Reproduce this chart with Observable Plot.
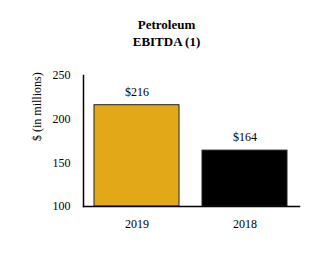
<!DOCTYPE html>
<html>
<head>
<meta charset="utf-8">
<script src="https://cdn.jsdelivr.net/npm/d3@7"></script>
<script src="https://cdn.jsdelivr.net/npm/@observablehq/plot@0.6"></script>
<style>
  html, body { margin: 0; padding: 0; background: #fff; }
  #title { width: 333px; padding-top: 16px; height: 34px; font-family: "Liberation Serif"; font-weight: bold; font-size: 13px; line-height: 17px; text-align: center; color: #000; }
  #chart svg { display: block; font-family: "Liberation Serif" !important; }
  #chart svg text { font-family: "Liberation Serif" !important; }
</style>
</head>
<body>
<div id="title">Petroleum<br>EBITDA (1)</div>
<div id="chart"></div>
<script>
const years = ["2019", "2018"];
const values = [216, 164];
const labels = ["$216", "$164"];
const colors = ["#E3A817", "#000000"];
const yTicks = [100, 150, 200, 250];
const yLabel = "$ (in millions)";

const data = years.map((y, i) => ({year: y, value: values[i], label: labels[i], color: colors[i]}));

const chart = Plot.plot({
  width: 333,
  height: 203,
  marginTop: 25,
  marginBottom: 47,
  marginLeft: 83,
  marginRight: 34,
  style: {fontFamily: "Liberation Serif", fontSize: "12px", color: "#000", background: "#fff"},
  x: {domain: years, paddingInner: 0.21, paddingOuter: 0.105, label: null},
  y: {domain: [100, 250], ticks: yTicks, label: null},
  marks: [
    Plot.barY(data, {x: "year", y1: 100, y2: "value", fill: "color", stroke: "#222", strokeWidth: 1}),
    Plot.axisY({ticks: yTicks, tickSize: 0, tickPadding: 13, fontSize: 12, label: null}),
    Plot.axisX({tickSize: 0, tickPadding: 13, fontSize: 12, label: null}),
    Plot.frame({anchor: "left", stroke: "#000", strokeWidth: 1.5}),
    Plot.frame({anchor: "bottom", stroke: "#000", strokeWidth: 1.5}),
    Plot.text(data, {x: "year", y: "value", text: "label", dy: -13, fontSize: 12, fill: "#000"}),
    Plot.text([yLabel], {frameAnchor: "left", dx: -46, rotate: -90, fontSize: 12, fill: "#000"})
  ]
});
document.getElementById("chart").appendChild(chart);
</script>
</body>
</html>
